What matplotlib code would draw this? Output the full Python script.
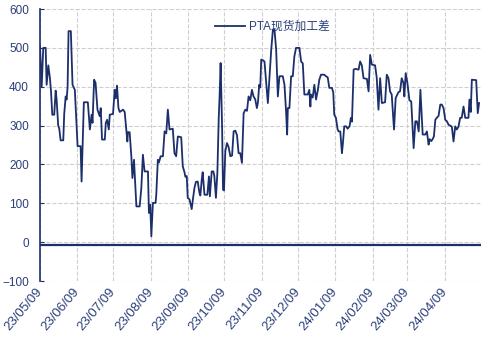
import pandas as pd
import matplotlib
matplotlib.use('Agg')
import matplotlib.pyplot as plt
import matplotlib.dates as mdates

# PTA spot processing spread, vertices
start = pd.Timestamp('2023-05-09')
days = [0.0, 1.4, 2.7, 4.7, 5.5, 6.9, 8.3, 9.1, 10.2, 11.8, 13.0, 13.8, 15.1, 16.0, 17.1, 19.3,
        20.1, 21.3, 22.1, 22.9, 23.7, 25.6, 27.0, 28.9, 31.2, 33.7, 34.5, 36.4, 39.7, 41.4, 42.8,
        43.6, 44.9, 46.1, 47.7, 49.6, 50.4, 51.5, 53.8, 54.6, 55.7, 57.1, 57.9, 60.6, 62.0, 62.9,
        63.9, 65.1, 66.2, 68.9, 70.3, 71.7, 72.5, 73.0, 74.4, 75.8, 76.7, 78.0, 80.0, 82.7, 84.1,
        85.4, 86.8, 89.6, 90.4, 91.5, 92.4, 93.7, 95.9, 96.5, 97.8, 98.7, 100.1, 102.0, 103.4,
        104.8, 106.1, 107.5, 110.2, 111.6, 113.0, 114.4, 117.2, 118.5, 119.9, 120.7, 121.8, 122.6,
        124.1, 125.9, 126.9, 128.2, 129.4, 130.9, 132.3, 133.1, 134.2, 135.0, 136.5, 138.9, 140.2,
        141.0, 142.5, 143.9, 144.7, 146.0, 147.2, 148.3, 149.1, 149.9, 151.1, 151.9, 152.7, 153.8,
        155.2, 156.5, 158.0, 159.4, 160.7, 162.1, 163.5, 164.8, 166.2, 167.6, 169.0, 170.4, 171.8,
        173.1, 174.5, 175.9, 177.2, 178.6, 180.0, 180.9, 181.9, 182.8, 183.6, 185.0, 186.3, 187.7,
        189.1, 190.5, 191.9, 193.3, 194.6, 196.0, 197.4, 198.7, 201.5, 202.9, 204.3, 205.1, 205.7,
        207.0, 208.4, 209.8, 211.1, 212.5, 215.3, 216.7, 218.1, 219.4, 222.2, 223.5, 224.4, 224.9,
        226.3, 227.7, 229.1, 230.5, 231.8, 233.2, 235.9, 237.3, 238.8, 240.1, 242.3, 243.4, 244.2,
        245.6, 247.0, 247.8, 249.2, 250.6, 251.4, 252.5, 254.1, 255.3, 256.9, 258.0, 258.9, 260.3,
        261.6, 264.4, 265.7, 267.1, 268.5, 271.3, 272.7, 274.0, 275.4, 278.1, 279.5, 280.9, 282.3,
        283.7, 286.4, 287.8, 289.2, 290.5, 291.9, 293.8, 295.2, 297.5, 298.8, 300.2, 301.6, 302.4,
        303.5, 304.9, 306.6, 308.1, 310.1, 311.5, 312.8, 314.3, 315.7, 317.6, 319.8, 321.1, 322.5,
        323.4, 324.8, 325.8, 326.9, 328.1, 329.3, 330.8, 332.2, 333.5, 334.9, 336.3, 337.7, 339.1,
        340.5, 341.8, 343.2, 344.6, 345.9, 347.3, 348.7, 350.0, 351.5, 352.9, 355.6, 356.4, 357.5,
        358.4, 362.0, 363.3, 364.4]
spread = [504, 401, 500, 500, 405, 455, 420, 390, 328, 328, 390, 367, 300, 292, 262, 262,
          330, 375, 367, 400, 543, 543, 405, 392, 247, 247, 156, 360, 360, 290, 328,
          307, 418, 410, 341, 324, 345, 264, 264, 307, 315, 290, 328, 330, 392, 370,
          403, 345, 335, 341, 335, 285, 259, 283, 283, 221, 165, 212, 92, 92, 139,
          225, 182, 182, 75, 96, 15, 101, 101, 122, 212, 205, 221, 221, 285,
          280, 341, 290, 292, 229, 221, 272, 270, 195, 180, 168, 170, 114,
          110, 85, 110, 140, 155, 156, 127, 120, 160, 180, 122, 122, 169,
          118, 182, 182, 170, 114, 178, 315, 380, 461, 300, 135, 133, 234,
          255, 245, 221, 223, 285, 287, 275, 229, 229, 204, 332, 341, 338,
          375, 365, 392, 375, 368, 345, 360, 405, 398, 470, 468, 465, 410,
          358, 427, 495, 547, 547, 495, 375, 427, 427, 405, 332, 277, 345,
          345, 427, 427, 478, 500, 500, 465, 460, 380, 380, 392, 349, 380,
          372, 405, 367, 390, 418, 431, 431, 427, 424, 397, 397, 385, 328,
          320, 290, 285, 285, 229, 255, 298, 298, 292, 298, 320, 310, 444,
          446, 444, 465, 455, 422, 420, 388, 482, 457, 455, 422, 341, 422,
          358, 360, 431, 422, 388, 380, 290, 371, 386, 388, 422, 410, 375,
          435, 410, 365, 362, 242, 311, 311, 285, 392, 277, 277, 285, 251,
          265, 260, 265, 272, 315, 320, 325, 354, 354, 345, 315, 311, 302,
          300, 297, 259, 298, 290, 297, 320, 320, 349, 320, 320, 367, 335,
          418, 417, 332, 358]
series_name = 'PTA现货加工差'
month_ticks = pd.date_range('2023-05-09', periods=12, freq=pd.DateOffset(months=1))
y_ticks = [-100, 0, 100, 200, 300, 400, 500, 600]

navy = '#1c2f6b'
text_col = '#2b3f7a'
dates = start + pd.to_timedelta(days, unit='D')

plt.rcParams['font.family'] = ['Liberation Sans', 'Noto Sans CJK SC', 'DejaVu Sans']
fig = plt.figure(figsize=(5, 3.4), dpi=100)
ax = fig.add_axes([0.08, 0.1735, 0.882, 0.8])

ax.plot(dates, spread, color=navy, linewidth=1.3, label=series_name, zorder=3)
ax.axhline(-7, color=navy, linewidth=1.6, zorder=2)

ax.set_ylim(-100, 600)
ax.set_xlim(start, pd.Timestamp('2024-05-09'))
ax.set_yticks(y_ticks)
ax.set_xticks(month_ticks)
ax.xaxis.set_major_formatter(mdates.DateFormatter('%y/%m/%d'))
ax.grid(True, color='#cfcfcf', linestyle='--', linewidth=0.8, zorder=0)

for s in ['top', 'right', 'bottom']:
    ax.spines[s].set_visible(False)
ax.spines['left'].set_color(navy)
ax.spines['left'].set_linewidth(1.2)

ax.tick_params(axis='y', direction='in', length=3, color=navy, labelcolor=text_col, labelsize=8.5, pad=8)
ax.tick_params(axis='x', length=0, labelcolor=text_col, labelsize=9.5, pad=6)
for lbl in ax.get_xticklabels():
    lbl.set_rotation(50)
    lbl.set_horizontalalignment('right')
    lbl.set_verticalalignment('center')
    lbl.set_rotation_mode('anchor')

leg = ax.legend(loc='upper left', bbox_to_anchor=(0.372, 0.995), frameon=False,
                handlelength=2.6, handletextpad=0.3, fontsize=8.5)
for t in leg.get_texts():
    t.set_color(text_col)

fig.savefig('out.png', dpi=100)
